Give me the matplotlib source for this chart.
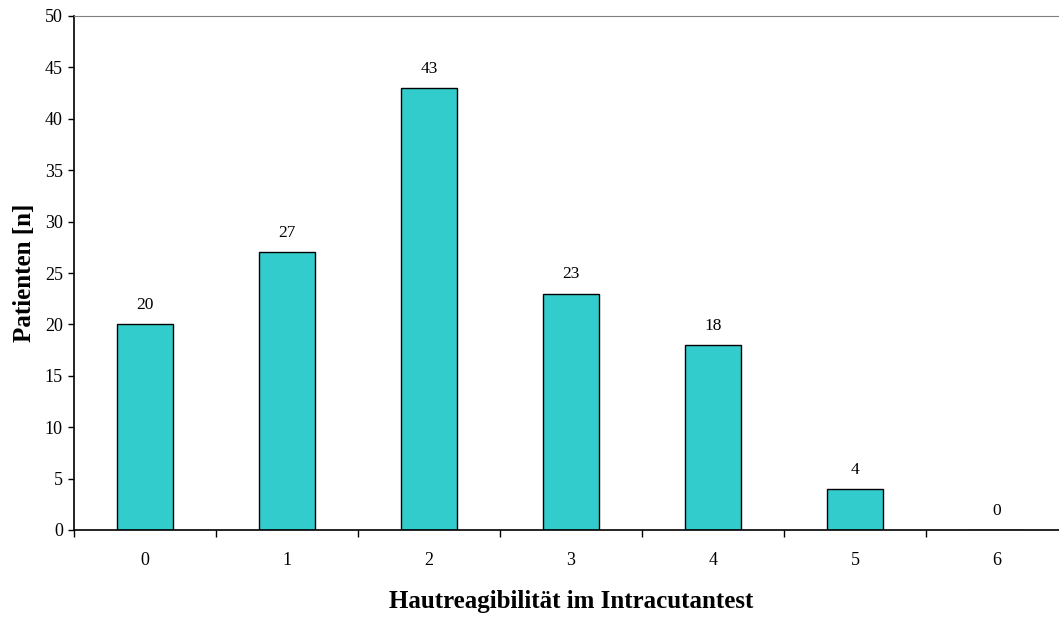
import numpy as np
from matplotlib import pyplot as plt

# Hautreagibilitaet (Intracutantest) vs. Anzahl Patienten
stufen = ['0', '1', '2', '3', '4', '5', '6']
patienten = [20, 27, 43, 23, 18, 4, 0]

plt.rcParams['font.family'] = ['Liberation Serif', 'DejaVu Serif']

fig = plt.figure(figsize=(10.59, 6.17), dpi=100)
ax = fig.add_axes([74/1059, 87/617, 994/1059, 514/617])

x = np.arange(len(stufen))
bars = ax.bar(x, patienten, width=0.4, color='#33CCCC', edgecolor='black', linewidth=1.0)

for xi, v in zip(x, patienten):
    ax.annotate(str(v), (xi, v), xytext=(0, 8), textcoords='offset points',
                ha='center', va='bottom', fontsize=12.5)

ax.set_xlim(-0.5, len(stufen) - 0.5)
ax.set_ylim(0, 50)
ax.set_yticks(np.arange(0, 51, 5))
ax.tick_params(axis='y', direction='out', length=4, width=1, labelsize=13, pad=4)

# category labels centered, ticks between the categories
ax.set_xticks(x)
ax.set_xticklabels(stufen, fontsize=13)
ax.tick_params(axis='x', which='major', length=0, pad=16)
ax.set_xticks(np.arange(-0.5, len(stufen), 1), minor=True)
ax.tick_params(axis='x', which='minor', direction='out', length=5, width=1)

ax.spines['right'].set_visible(False)
ax.spines['top'].set_color('#808080')
ax.spines['left'].set_linewidth(1.2)
ax.spines['bottom'].set_linewidth(1.2)

ax.set_xlabel('Hautreagibilität im Intracutantest', fontsize=18, fontweight='bold', labelpad=15)
ax.set_ylabel('Patienten [n]', fontsize=18, fontweight='bold', labelpad=6)

fig.savefig('out.png', dpi=100)
